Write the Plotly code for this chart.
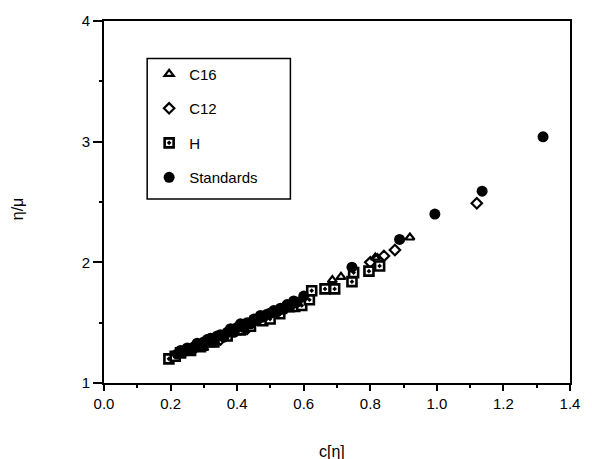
import plotly.graph_objects as go

# C16 series (open triangles)
c16_x = [0.30, 0.32, 0.40, 0.46, 0.52, 0.56, 0.686, 0.712, 0.815, 0.919]
c16_y = [1.29, 1.32, 1.42, 1.50, 1.56, 1.61, 1.853, 1.880, 2.040, 2.206]

# C12 series (open diamonds)
c12_x = [0.27, 0.35, 0.43, 0.49, 0.60, 0.800, 0.821, 0.841, 0.874, 1.120]
c12_y = [1.28, 1.36, 1.45, 1.54, 1.68, 2.000, 2.025, 2.053, 2.102, 2.490]

# H series (dotted squares)
h_x = [0.195, 0.214, 0.23, 0.26, 0.29, 0.33, 0.37, 0.41, 0.44, 0.477, 0.499,
       0.528, 0.573, 0.594, 0.617, 0.624, 0.664, 0.693, 0.745, 0.750, 0.796, 0.828]
h_y = [1.200, 1.222, 1.25, 1.27, 1.30, 1.34, 1.39, 1.44, 1.47, 1.516, 1.530,
       1.574, 1.634, 1.642, 1.690, 1.765, 1.780, 1.780, 1.840, 1.915, 1.927, 1.970]

# Standards (filled circles)
std_x = [0.22, 0.23, 0.24, 0.25, 0.26, 0.27, 0.28, 0.29, 0.30, 0.31, 0.32, 0.33,
         0.34, 0.35, 0.36, 0.37, 0.38, 0.39, 0.40, 0.41, 0.42, 0.43, 0.44, 0.45,
         0.46, 0.47, 0.48, 0.49, 0.50, 0.51, 0.52, 0.53, 0.54, 0.55, 0.56, 0.57,
         0.58, 0.60,
         0.745, 0.888, 0.994, 1.136, 1.319]
std_y = [1.24, 1.27, 1.26, 1.29, 1.28, 1.30, 1.33, 1.31, 1.34, 1.36, 1.37, 1.35,
         1.39, 1.40, 1.38, 1.42, 1.45, 1.42, 1.46, 1.49, 1.46, 1.50, 1.49, 1.53,
         1.52, 1.56, 1.55, 1.57, 1.58, 1.60, 1.59, 1.62, 1.61, 1.65, 1.64, 1.68,
         1.67, 1.72,
         1.96, 2.19, 2.40, 2.59, 3.04]

x_ticks = [0.0, 0.2, 0.4, 0.6, 0.8, 1.0, 1.2, 1.4]
x_tick_text = ["0.0", "0.2", "0.4", "0.6", "0.8", "1.0", "1.2", "1.4"]
y_ticks = [1, 2, 3, 4]

FONT = "Liberation Sans, Arial, sans-serif"

# plot area in pixels
W, H = 592, 459
ML, MR, MT, MB = 104, 13, 17, 76
PW, PH = W - ML - MR, H - MT - MB


def px_to_paper(px, py):
    return (px - ML) / PW, (H - MB - py) / PH


fig = go.Figure()

fig.add_trace(go.Scatter(
    x=c16_x, y=c16_y, mode="markers", name="C16", legendgroup="a",
    marker=dict(symbol="triangle-up-open", size=8, color="black",
                line=dict(width=2.2, color="black")),
))
fig.add_trace(go.Scatter(
    x=c12_x, y=c12_y, mode="markers", name="C12", legendgroup="b",
    marker=dict(symbol="diamond-open", size=8, color="black",
                line=dict(width=2.2, color="black")),
))
fig.add_trace(go.Scatter(
    x=h_x, y=h_y, mode="markers", name="H", legendgroup="c",
    marker=dict(symbol="square-dot", size=9, color="white",
                line=dict(width=2.6, color="black")),
))
fig.add_trace(go.Scatter(
    x=std_x, y=std_y, mode="markers", name="Standards", legendgroup="d",
    marker=dict(symbol="circle", size=11, color="black",
                line=dict(width=0, color="black")),
))

# legend frame
lx0, ly0 = px_to_paper(148, 197)
lx1, ly1 = px_to_paper(294, 55)

fig.update_layout(
    width=W, height=H,
    margin=dict(l=ML, r=MR, t=MT, b=MB),
    paper_bgcolor="white", plot_bgcolor="white",
    font=dict(family=FONT, size=15, color="black"),
    showlegend=True,
    legend=dict(
        x=px_to_paper(150, 0)[0], y=px_to_paper(0, 54)[1],
        xanchor="left", yanchor="top",
        borderwidth=0, bgcolor="rgba(0,0,0,0)",
        font=dict(family=FONT, size=15, color="black"),
        tracegroupgap=12, itemwidth=30,
    ),
    shapes=[
        dict(type="rect", xref="paper", yref="paper",
             x0=lx0, y0=ly0, x1=lx1, y1=ly1,
             line=dict(color="black", width=1.5), fillcolor="white", layer="below"),
    ],
    xaxis=dict(
        range=[0, 1.4], tickvals=x_ticks, ticktext=x_tick_text,
        showgrid=False, zeroline=False,
        showline=True, linecolor="black", linewidth=2, mirror=True,
        ticks="outside", ticklen=6, tickwidth=1.5, tickcolor="black",
        minor=dict(dtick=0.1, ticks="outside", ticklen=3, tickcolor="black"),
        tickfont=dict(family=FONT, size=15),
    ),
    yaxis=dict(
        range=[1, 4], tickvals=y_ticks,
        showgrid=False, zeroline=False,
        showline=True, linecolor="black", linewidth=2, mirror=True,
        ticks="outside", ticklen=9, tickwidth=1.5, tickcolor="black",
        minor=dict(dtick=0.5, ticks="outside", ticklen=3, tickcolor="black"),
        tickfont=dict(family=FONT, size=15),
    ),
    annotations=[
        dict(text="c[η]", xref="paper", yref="paper", x=0.49, y=0,
             yshift=-68, xanchor="center", yanchor="middle", showarrow=False,
             font=dict(family=FONT, size=16)),
        dict(text="η/μ", xref="paper", yref="paper", x=0, y=0.48,
             xshift=-87, xanchor="center", yanchor="middle", showarrow=False,
             textangle=-90, font=dict(family=FONT, size=16)),
    ],
)

fig.write_html("out.html")
